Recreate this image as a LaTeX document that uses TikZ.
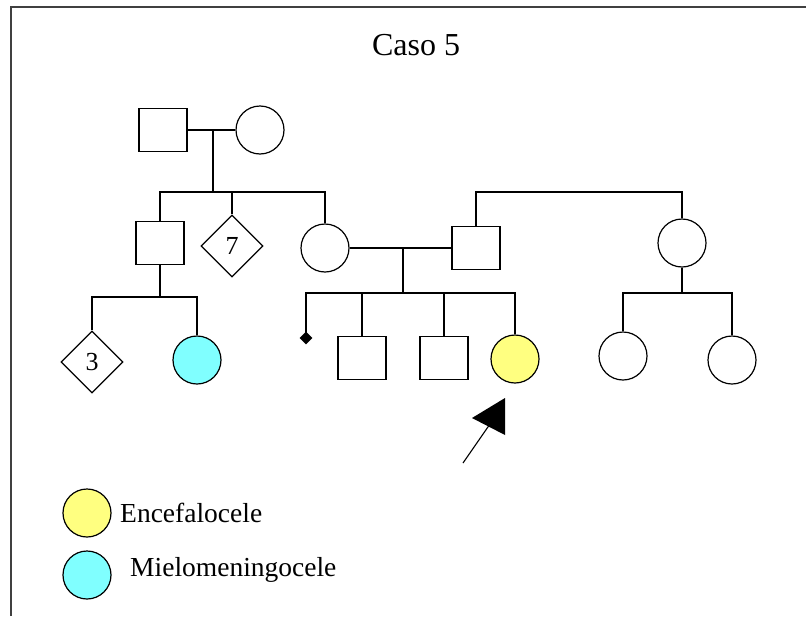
\documentclass[tikz,border=0pt]{standalone}
\usepackage{fontspec}
\setmainfont{Liberation Serif}
\usepackage{tikz}
\usetikzlibrary{positioning, shapes.geometric}
\usepackage{xcolor}

\definecolor{encyellow}{HTML}{FFFF80}
\definecolor{mielcyan}{HTML}{80FFFF}

\tikzset{
    male/.style={draw, line width=1.6pt, rectangle, minimum width=48pt, minimum height=43pt, inner sep=0pt},
    female/.style={draw, line width=1.2pt, circle, minimum size=48pt, inner sep=0pt},
    unknown/.style={draw, line width=1.2pt, diamond, minimum width=62pt, minimum height=62pt, inner sep=0pt,
        font=\fontsize{26}{30}\selectfont},
    line/.style={line width=1.8pt}
}

\begin{document}
\begin{tikzpicture}[x=1pt, y=-1pt]
        \useasboundingbox (0,0) rectangle (806,616);

        % Frame of the panel (cut off at the right and bottom)
        \draw[line width=2.5pt, black!75] (11,616) -- (11,7) -- (806,7);

        % Title
        \node (title) at (416,45) {\fontsize{32}{38}\selectfont Caso 5};

        % First generation
        \node[male] (gf) at (163,130) {};
        \node[female] (gm) at (260,130) {};

        % Second generation
        \node[male] (uncle) at (160,243) {};
        \node[unknown] (d7) at (232,246) {7};
        \node[female] (mom) at (325,248) {};
        \node[male] (dad) at (476,248) {};
        \node[female] (aunt) at (682,243) {};

        % Third generation
        \node[unknown] (d3) at (92,362) {3};
        \node[female, fill=mielcyan] (cousin) at (197,360) {};
        \node[diamond, fill=black, minimum size=13pt, inner sep=0pt] (lost) at (306,338) {};
        \node[male] (bro1) at (362,358) {};
        \node[male] (bro2) at (444,358) {};
        \node[female, fill=encyellow] (proband) at (515,359) {};
        \node[female] (cous1) at (623,356) {};
        \node[female] (cous2) at (732,360) {};

        % Helper points on the sibship lines
        \coordinate (m1) at (213,130); % marriage of the grandparents
        \coordinate (sib1) at (213,192); % their sibship line
        \coordinate (sib2) at (682,192); % sibship of dad and aunt
        \coordinate (sib3) at (160,297); % children of the uncle
        \coordinate (m2) at (403,248); % marriage of mom and dad
        \coordinate (sib4) at (403,293); % children of mom and dad
        \coordinate (sib5) at (682,293); % children of the aunt

        % Marriages and lines of descent
        \draw[line] (gf.east) -- (gm.west);
        \draw[line] (m1) -- (sib1);
        \draw[line] (uncle.north) |- (sib1) -| (mom.north);
        \draw[line] (d7.north) -- (d7.north |- sib1);
        \draw[line] (dad.north) |- (sib2) -- (aunt.north);

        \draw[line] (uncle.south) -- (sib3);
        \draw[line] (d3.north) |- (sib3) -| (cousin.north);

        \draw[line] (mom.east) -- (dad.west);
        \draw[line] (m2) -- (sib4);
        \draw[line] (lost.center) |- (sib4) -| (proband.north);
        \draw[line] (bro1.north) -- (bro1.north |- sib4);
        \draw[line] (bro2.north) -- (bro2.north |- sib4);

        \draw[line] (aunt.south) -- (sib5);
        \draw[line] (cous1.north) |- (sib5) -| (cous2.north);

        % Arrow pointing at the proband
        \coordinate (ptail) at (463,463);
        \coordinate (phead) at (490,424);
        \draw[line width=1.1pt] (ptail) -- (phead);
        \fill (505,398) -- (505,435) -- (472,418) -- cycle;

        % Legend
        \node[female, fill=encyellow] (keyenc) at (87,513) {};
        \node[female, fill=mielcyan] (keymiel) at (87,575) {};
        \node[anchor=west, inner sep=0pt, font=\fontsize{27.5}{32}\selectfont] (lblenc) at (120,513) {Encefalocele};
        \node[anchor=west, inner sep=0pt, font=\fontsize{27.5}{32}\selectfont] (lblmiel) at (130,570) {Mielomeningocele};
    \end{tikzpicture}
\end{document}
